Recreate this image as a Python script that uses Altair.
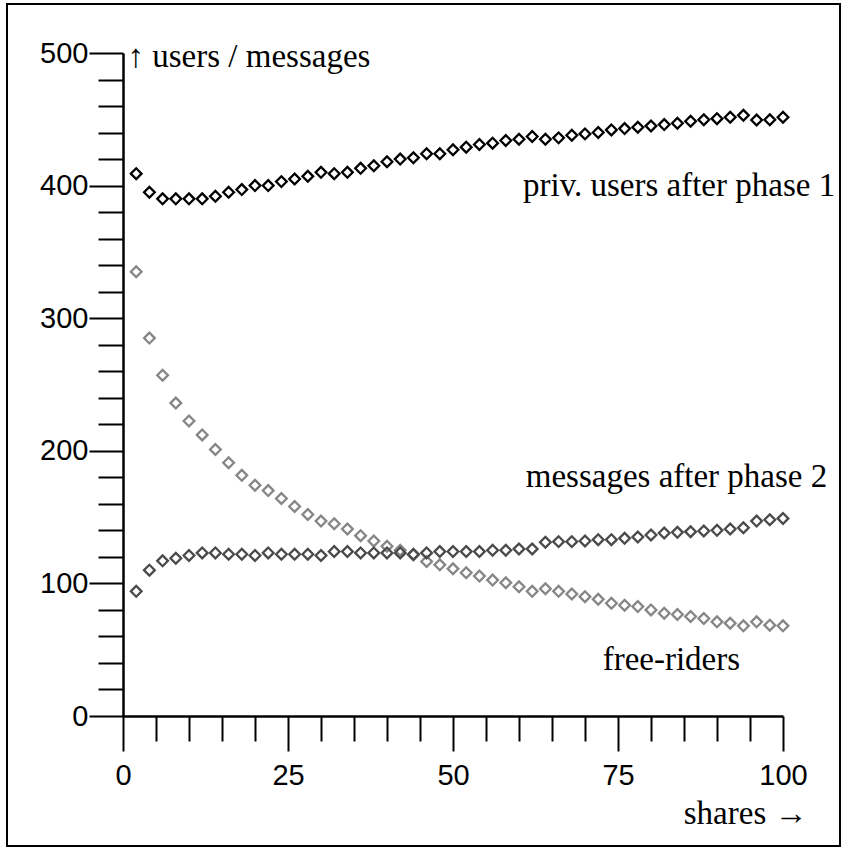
import altair as alt
import pandas as pd

# x positions of the simulation runs (number of shares)
shares = list(range(2, 101, 2))

priv_users = [409, 395, 390, 390, 390, 390, 392, 395, 397, 400,
              400, 403, 405, 407, 410, 409, 410, 413, 415, 418,
              420, 421, 424, 424, 427, 429, 431, 432, 434, 435,
              437, 435, 436, 438, 439, 440, 442, 443, 444, 445,
              446, 447, 448.5, 449.7, 450.5, 451.5, 453, 449.5, 449.7, 451.5]

messages = [94, 110, 117, 119, 121, 123, 123, 122, 122, 121,
            123, 122, 122, 122, 121, 124, 124, 123, 123, 123,
            123, 122, 123, 124, 124, 124, 124, 125, 125, 126,
            126, 131, 131.5, 131.5, 132, 133, 133, 134, 135, 136.5,
            138, 138.5, 139, 139.5, 140, 141, 142, 147, 148, 149]

free_riders = [335, 285, 257, 236, 222.5, 212, 201, 191, 181.5, 174,
               170, 164, 158, 152, 147, 145, 141, 136, 132, 128,
               125, 121.5, 116.5, 114, 111, 108, 105.5, 102.5, 100.5, 97.5,
               94, 96, 94, 92, 90, 88, 85, 83.5, 82.5, 80,
               77.5, 76.5, 75, 73.5, 71, 70, 68, 71, 68.5, 68]

series_names = ["free-riders", "messages after phase 2", "priv. users after phase 1"]
series_colors = ["#868686", "#4a4a4a", "#000000"]

rows = []
for order, (name, vals) in enumerate(zip(series_names, [free_riders, messages, priv_users])):
    for s, v in zip(shares, vals):
        rows.append({"shares": s, "value": v, "series": name, "order": order})
df = pd.DataFrame(rows)

# curve labels, anchored at their right end in data units
labels = pd.DataFrame({
    "text": ["priv. users after phase 1", "messages after phase 2", "free-riders"],
    "x": [107.9, 106.7, 93.5],
    "y": [392.0, 172.7, 34.7],
})

SERIF = "Liberation Serif"
SANS = "Liberation Sans"

x_scale = alt.Scale(domain=[0, 100], nice=False, zero=False)
y_scale = alt.Scale(domain=[0, 500], nice=False)

x_axis = alt.Axis(
    values=list(range(0, 101, 5)),
    labelExpr="datum.value % 25 === 0 ? datum.label : ''",
    labelOverlap=False,
    labelFlush=False,
    labelFont=SANS,
    labelFontSize=29,
    labelColor="black",
    labelPadding=10,
    tickSize={"condition": {"test": "datum.value % 25 !== 0", "value": 25}, "value": 35},
    tickColor="black",
    tickWidth=2,
    domainColor="black",
    domainWidth=2.5,
    grid=False,
    title="shares \u2192",
    titleFont=SERIF,
    titleFontSize=33,
    titleFontWeight="normal",
    titleColor="black",
    titleAlign="right",
    titleBaseline="alphabetic",
    titleAnchor="start",
    titleX=684,
    titleY=107,
)

y_axis = alt.Axis(
    values=list(range(0, 501, 20)),
    labelExpr="datum.value % 100 === 0 ? datum.label : ''",
    labelOverlap=False,
    labelFlush=False,
    labelFont=SANS,
    labelFontSize=29,
    labelColor="black",
    labelPadding=1,
    tickSize={"condition": {"test": "datum.value % 100 !== 0", "value": 25}, "value": 34},
    tickColor="black",
    tickWidth=2,
    domainColor="black",
    domainWidth=2.5,
    grid=False,
    title="\u2191 users / messages",
    titleFont=SERIF,
    titleFontSize=33,
    titleFontWeight="normal",
    titleColor="black",
    titleAngle=0,
    titleAlign="left",
    titleBaseline="middle",
    titleAnchor="start",
    titleX=4,
    titleY=3,
)

points = alt.Chart(df).mark_point(
    shape="diamond", filled=False, size=115, strokeWidth=2.3, opacity=1
).encode(
    x=alt.X("shares:Q", scale=x_scale, axis=x_axis),
    y=alt.Y("value:Q", scale=y_scale, axis=y_axis),
    color=alt.Color("series:N",
                    scale=alt.Scale(domain=series_names, range=series_colors),
                    legend=None),
    order=alt.Order("order:Q"),
)

text = alt.Chart(labels).mark_text(
    align="right", baseline="alphabetic", font=SERIF, fontSize=33, color="black"
).encode(
    x=alt.X("x:Q", scale=x_scale, axis=x_axis),
    y=alt.Y("y:Q", scale=y_scale, axis=y_axis),
    text="text:N",
)

# thin frame around the whole figure
frame = alt.Chart(pd.DataFrame({"f": [0]})).mark_rect(
    fillOpacity=0, stroke="black", strokeWidth=2
).encode(
    x=alt.value(-116), x2=alt.value(717),
    y=alt.value(-49), y2=alt.value(793),
)

chart = alt.layer(frame, points, text).properties(
    width=660,
    height=663,
    padding={"left": 123, "top": 53, "right": 59, "bottom": 132},
    autosize=alt.AutoSizeParams(type="none"),
    background="white",
).configure_view(stroke=None)

chart.save("out.html", embed_options={"renderer": "svg", "actions": False})
